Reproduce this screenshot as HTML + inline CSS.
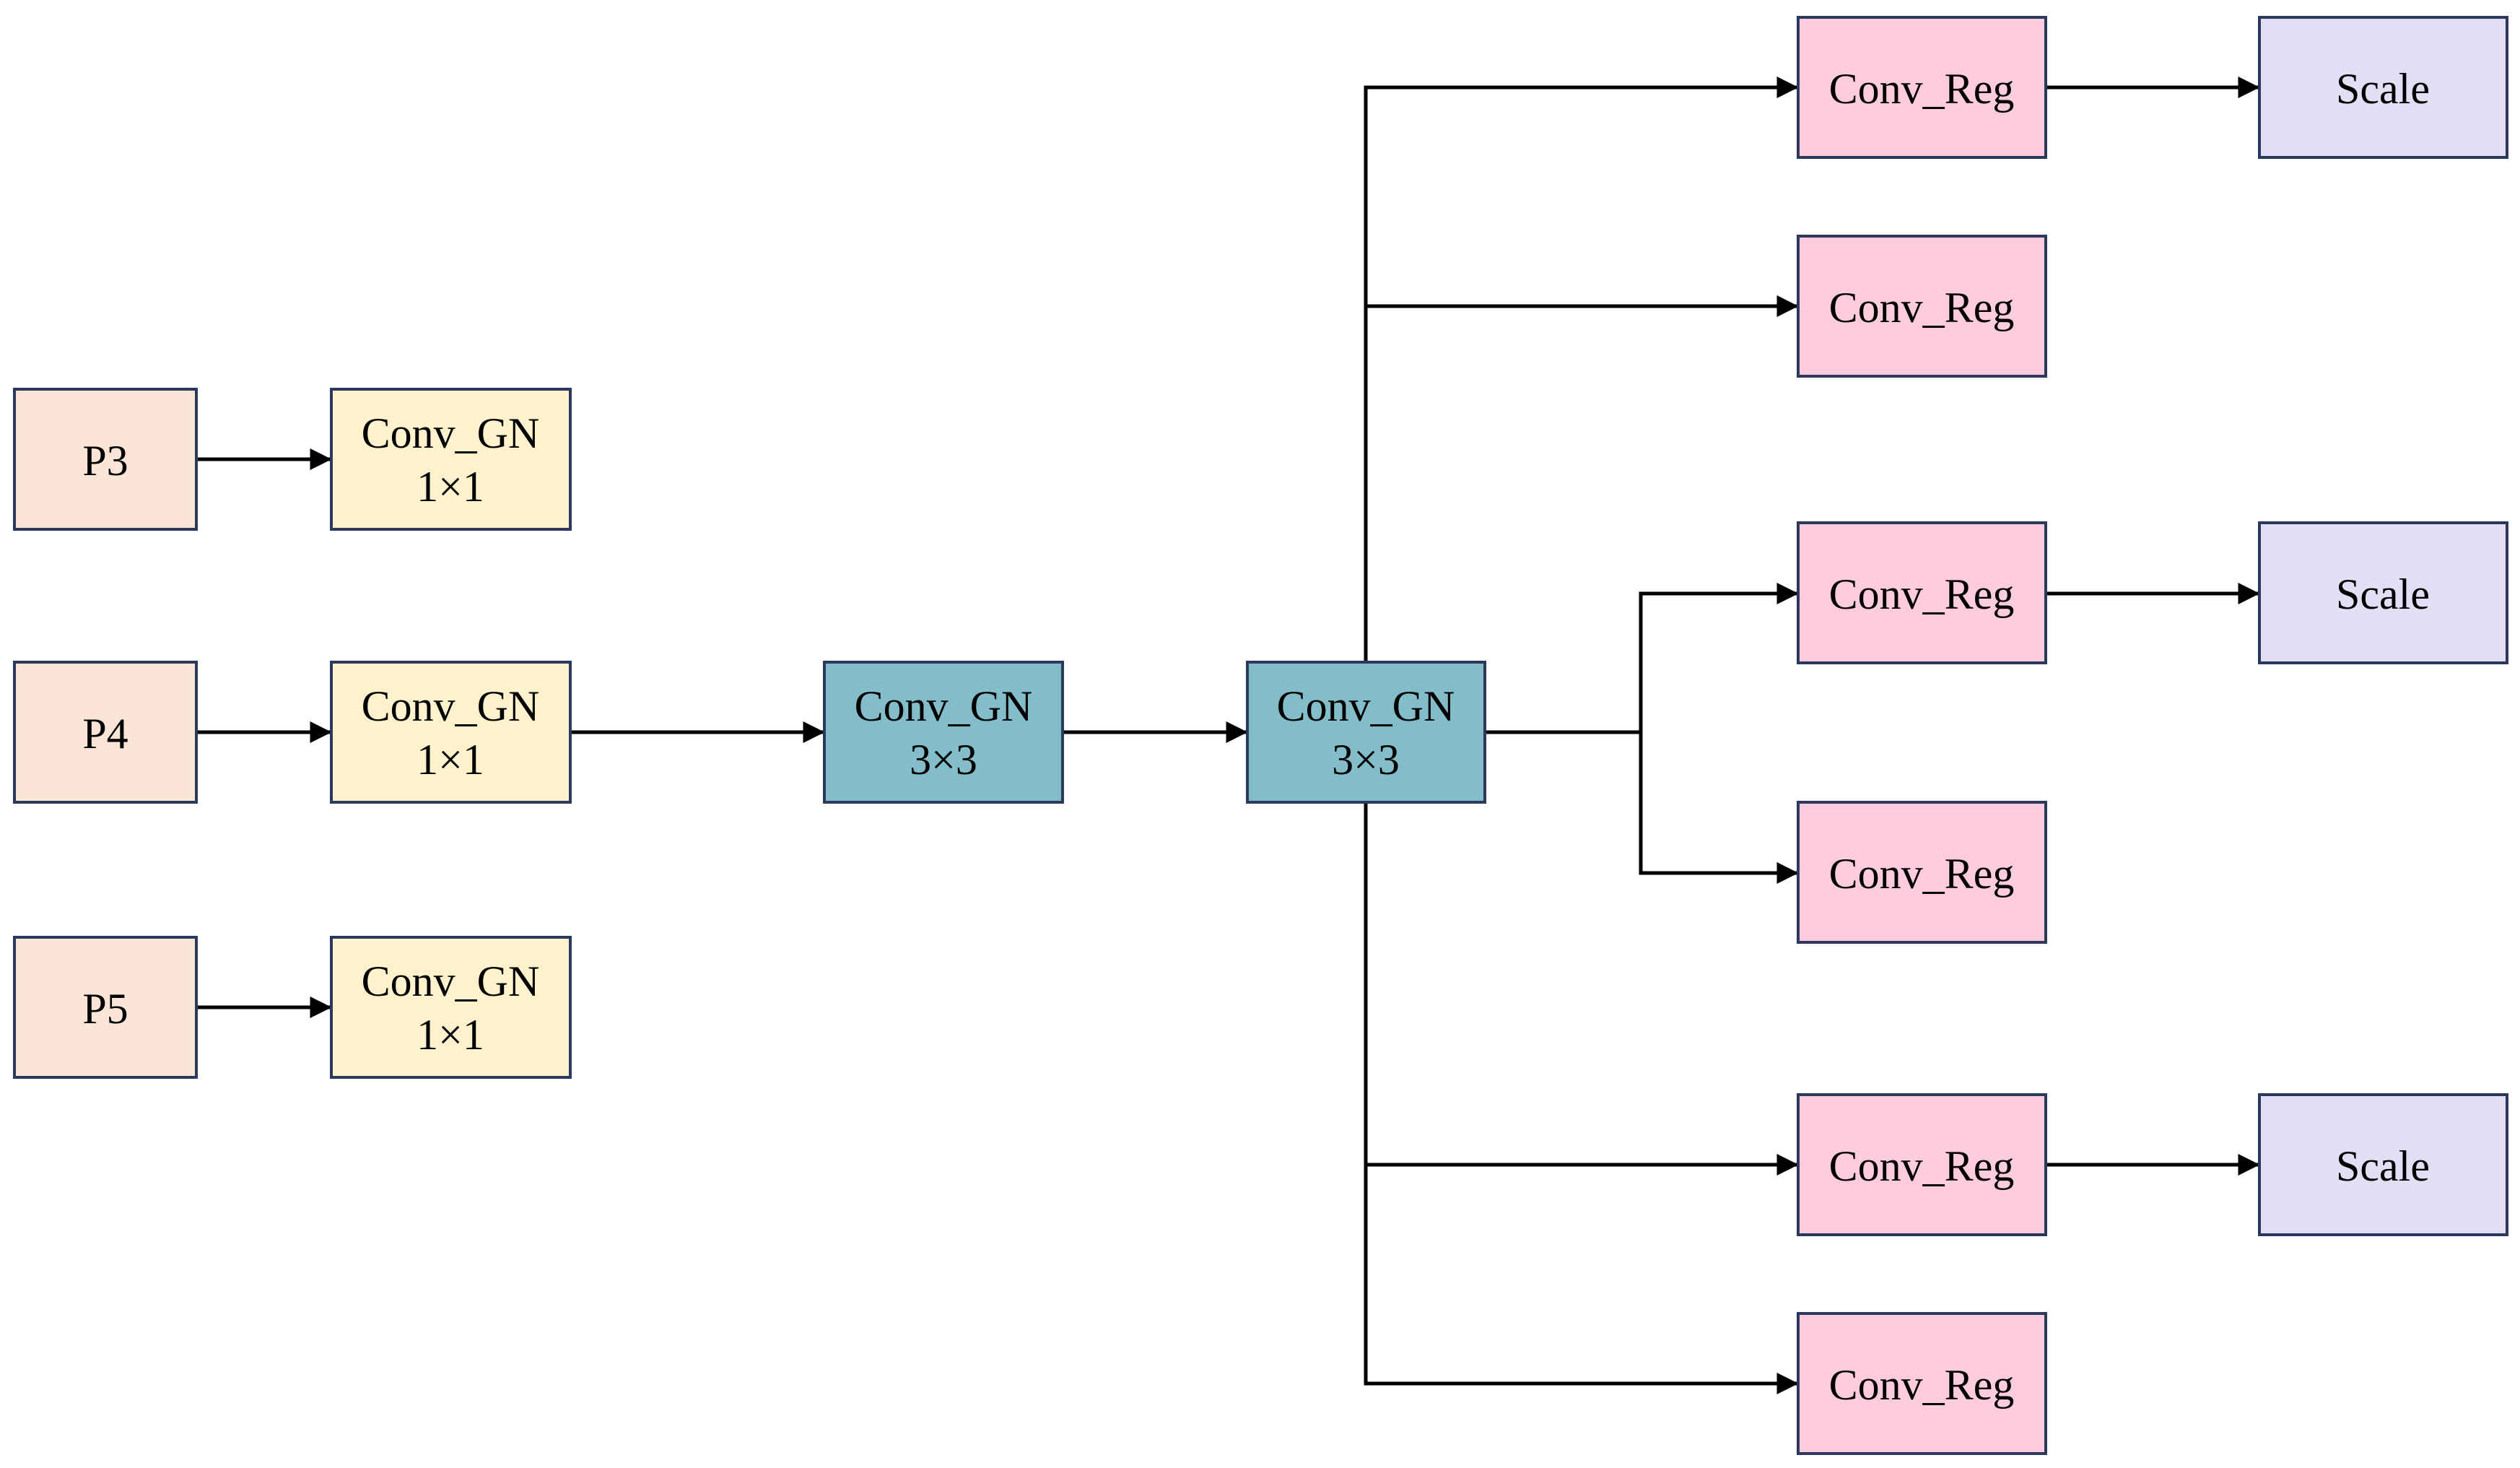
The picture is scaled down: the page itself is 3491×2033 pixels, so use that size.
<!DOCTYPE html>
<html><head><meta charset="utf-8"><style>
html,body{margin:0;padding:0;background:#fff;}
svg{display:block;}
text{font-family:"Liberation Serif",serif;font-size:60px;fill:#000;text-anchor:middle;dominant-baseline:central;}
</style></head><body>
<svg width="3491" height="2033" viewBox="0 0 3491 2033" xmlns="http://www.w3.org/2000/svg">
<defs>
<marker id="a" markerWidth="6" markerHeight="6" refX="5.5" refY="3" orient="auto" markerUnits="strokeWidth">
<path d="M0,0 L6,3 L0,6 z" fill="#000"/></marker>
</defs>
<g stroke="#000" stroke-width="5" fill="none">
<line x1="272" y1="636" x2="457" y2="636" marker-end="url(#a)"/>
<line x1="272" y1="1014" x2="457" y2="1014" marker-end="url(#a)"/>
<line x1="272" y1="1395" x2="457" y2="1395" marker-end="url(#a)"/>
<line x1="790" y1="1014" x2="1140" y2="1014" marker-end="url(#a)"/>
<line x1="1472" y1="1014" x2="1726" y2="1014" marker-end="url(#a)"/>
<polyline points="1892,917 1892,121 2489,121" marker-end="url(#a)"/>
<polyline points="1892,424 2489,424" marker-end="url(#a)"/>
<polyline points="1892,1111 1892,1916 2489,1916" marker-end="url(#a)"/>
<polyline points="1892,1613 2489,1613" marker-end="url(#a)"/>
<polyline points="2057,1014 2273,1014 2273,822 2489,822" marker-end="url(#a)"/>
<polyline points="2273,1014 2273,1209 2489,1209" marker-end="url(#a)"/>
<line x1="2834" y1="121" x2="3128" y2="121" marker-end="url(#a)"/>
<line x1="2834" y1="822" x2="3128" y2="822" marker-end="url(#a)"/>
<line x1="2834" y1="1613" x2="3128" y2="1613" marker-end="url(#a)"/>
</g>
<g stroke="#2b3a5c" stroke-width="4">
<rect x="20" y="539" width="252" height="194" fill="#fbe5d6"/>
<rect x="20" y="917" width="252" height="194" fill="#fbe5d6"/>
<rect x="20" y="1298" width="252" height="194" fill="#fbe5d6"/>
<rect x="459" y="539" width="331" height="194" fill="#fff2cc"/>
<rect x="459" y="917" width="331" height="194" fill="#fff2cc"/>
<rect x="459" y="1298" width="331" height="194" fill="#fff2cc"/>
<rect x="1142" y="917" width="330" height="194" fill="#82bdc9"/>
<rect x="1728" y="917" width="329" height="194" fill="#82bdc9"/>
<rect x="2491" y="24" width="343" height="194" fill="#ffccdd"/>
<rect x="2491" y="327" width="343" height="194" fill="#ffccdd"/>
<rect x="2491" y="724" width="343" height="194" fill="#ffccdd"/>
<rect x="2491" y="1111" width="343" height="194" fill="#ffccdd"/>
<rect x="2491" y="1516" width="343" height="194" fill="#ffccdd"/>
<rect x="2491" y="1819" width="343" height="194" fill="#ffccdd"/>
<rect x="3130" y="24" width="343" height="194" fill="#e2dff5"/>
<rect x="3130" y="724" width="343" height="194" fill="#e2dff5"/>
<rect x="3130" y="1516" width="343" height="194" fill="#e2dff5"/>
</g>
<text x="146" y="638">P3</text>
<text x="146" y="1016">P4</text>
<text x="146" y="1397">P5</text>
<text x="624" y="600">Conv_GN</text><text x="624" y="674">1×1</text>
<text x="624" y="978">Conv_GN</text><text x="624" y="1052">1×1</text>
<text x="624" y="1359">Conv_GN</text><text x="624" y="1433">1×1</text>
<text x="1307" y="978">Conv_GN</text><text x="1307" y="1052">3×3</text>
<text x="1892" y="978">Conv_GN</text><text x="1892" y="1052">3×3</text>
<text x="2662" y="123">Conv_Reg</text>
<text x="2662" y="426">Conv_Reg</text>
<text x="2662" y="823">Conv_Reg</text>
<text x="2662" y="1210">Conv_Reg</text>
<text x="2662" y="1615">Conv_Reg</text>
<text x="2662" y="1918">Conv_Reg</text>
<text x="3301" y="123">Scale</text>
<text x="3301" y="823">Scale</text>
<text x="3301" y="1615">Scale</text>
</svg>
</body></html>
